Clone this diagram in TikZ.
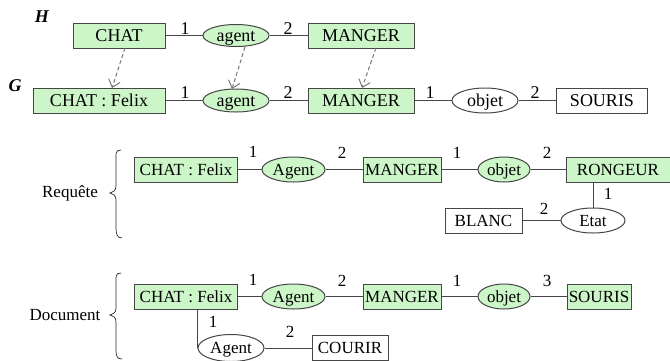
\documentclass[tikz,border=0pt]{standalone}
\usepackage{fontspec}
\setmainfont{Liberation Serif}
\usetikzlibrary{shapes.geometric,arrows.meta}
\definecolor{cgfill}{RGB}{204,245,200}
\definecolor{cgline}{RGB}{70,70,70}
\definecolor{projline}{RGB}{120,120,120}
\tikzset{
  every node/.style={font=\fontsize{17}{19}\selectfont},
  concept/.style={draw=cgline, line width=1pt, rectangle, inner sep=0pt, minimum height=25pt},
  green/.style={fill=cgfill},
  relation/.style={draw=cgline, line width=1pt, ellipse, inner sep=0pt, minimum height=25pt,
    text height=12pt, text depth=1pt},
  arc/.style={draw=cgline, line width=1pt},
  proj/.style={draw=projline, line width=1pt, dash pattern=on 4pt off 2.5pt, -{Straight Barb[length=7pt,width=12pt]}},
  num/.style={inner sep=0pt, font=\fontsize{17}{19}\selectfont},
  big/.style={font=\fontsize{18}{20}\selectfont},
  brace/.style={draw=black!85, line width=0.7pt},
}
\begin{document}
\begin{tikzpicture}[x=1pt,y=-1pt]
\useasboundingbox (0,0) rectangle (670,360);

% graph labels
\node[inner sep=0pt, font=\fontsize{18}{20}\selectfont\bfseries\itshape] (lH) at (42,17) {H};
\node[inner sep=0pt, font=\fontsize{18}{20}\selectfont\bfseries\itshape] (lG) at (15,86) {G};

% graph H
\node[concept, green, big, minimum width=92pt] (hchat) at (119,35.5) {CHAT};
\node[relation, green, big, minimum width=66pt, minimum height=22pt] (hagent) at (236,35.5) {agent};
\node[concept, green, big, minimum width=106pt] (hmanger) at (361,35.5) {MANGER};
\draw[arc] (hchat) -- (hagent) -- (hmanger);
\node[num, big] (h1) at (185,29) {1};
\node[num, big] (h2) at (288,29) {2};

% graph G
\node[concept, green, big, minimum width=132pt] (gchat) at (99,100.5) {CHAT : Felix};
\node[relation, green, big, minimum width=66pt, minimum height=23pt] (gagent) at (236,100.5) {agent};
\node[concept, green, big, minimum width=106pt] (gmanger) at (361,100.5) {MANGER};
\node[relation, big, minimum width=66pt, minimum height=25pt] (gobjet) at (485,100.5) {objet};
\node[concept, big, minimum width=91pt] (gsouris) at (602,100.5) {SOURIS};
\draw[arc] (gchat) -- (gagent) -- (gmanger) -- (gobjet) -- (gsouris);
\node[num, big] (g1) at (185,93) {1};
\node[num, big] (g2) at (288,93) {2};
\node[num, big] (g3) at (430,93) {1};
\node[num, big] (g4) at (535,93) {2};

% projection H -> G
\draw[proj] (125,48) -- (112,88);
\draw[proj] (245,47) -- (232,89);
\draw[proj] (376,48) -- (362,88);

% query
\node[inner sep=0pt] (lreq) at (70,193) {Requête};
\draw[brace] (121,150) .. controls (115,150) and (116,154) .. (116,160)
  -- (116,186) .. controls (116,191) and (113,192) .. (110,193)
  .. controls (113,194) and (116,195) .. (116,200)
  -- (116,228) .. controls (116,234) and (117,238) .. (122,238);
\node[concept, green, minimum width=103pt] (rchat) at (186,169.5) {CHAT : Felix};
\node[relation, green, minimum width=63pt] (ragent) at (293.5,169.5) {Agent};
\node[concept, green, minimum width=78pt] (rmanger) at (402,169.5) {MANGER};
\node[relation, green, minimum width=52pt] (robjet) at (504,169.5) {objet};
\node[concept, green, minimum width=104pt] (rrong) at (618,169.5) {RONGEUR};
\node[relation, minimum width=64pt] (retat) at (593,220.5) {Etat};
\node[concept, minimum width=77pt] (rblanc) at (483.5,220.5) {BLANC};
\draw[arc] (rchat) -- (ragent) -- (rmanger) -- (robjet) -- (rrong);
\draw[arc] (rrong.south -| retat) -- (retat);
\draw[arc] (rblanc) -- (retat);
\node[num] (r1) at (253,152) {1};
\node[num] (r2) at (342,153) {2};
\node[num] (r3) at (457,153) {1};
\node[num] (r4) at (547,153) {2};
\node[num] (r5) at (608,194) {1};
\node[num] (r6) at (544,209) {2};

% document
\node[inner sep=0pt] (ldoc) at (65,315) {Document};
\draw[brace] (121,273) .. controls (115,273) and (116,277) .. (116,283)
  -- (116,308) .. controls (116,313) and (113,314) .. (110,315)
  .. controls (113,316) and (116,317) .. (116,322)
  -- (116,350) .. controls (116,356) and (117,359) .. (122,359);
\node[concept, green, minimum width=103pt] (dchat) at (186,296.5) {CHAT : Felix};
\node[relation, green, minimum width=63pt] (dagent) at (293.5,296.5) {Agent};
\node[concept, green, minimum width=78pt] (dmanger) at (402,296.5) {MANGER};
\node[relation, green, minimum width=52pt] (dobjet) at (504,296.5) {objet};
\node[concept, green, minimum width=64pt] (dsouris) at (599,296.5) {SOURIS};
\node[relation, minimum width=66pt, minimum height=27pt] (dagent2) at (231,348) {Agent};
\node[concept, minimum width=76pt] (dcourir) at (350,348) {COURIR};
\draw[arc] (dchat) -- (dagent) -- (dmanger) -- (dobjet) -- (dsouris);
\draw[arc] (dchat.south -| dagent2.west) -- (dagent2.west);
\draw[arc] (dagent2) -- (dcourir);
\node[num] (d1) at (253,280) {1};
\node[num] (d2) at (342,281) {2};
\node[num] (d3) at (457,281) {1};
\node[num] (d4) at (547,281) {3};
\node[num] (d5) at (213,322) {1};
\node[num] (d6) at (290,332) {2};
\end{tikzpicture}
\end{document}
